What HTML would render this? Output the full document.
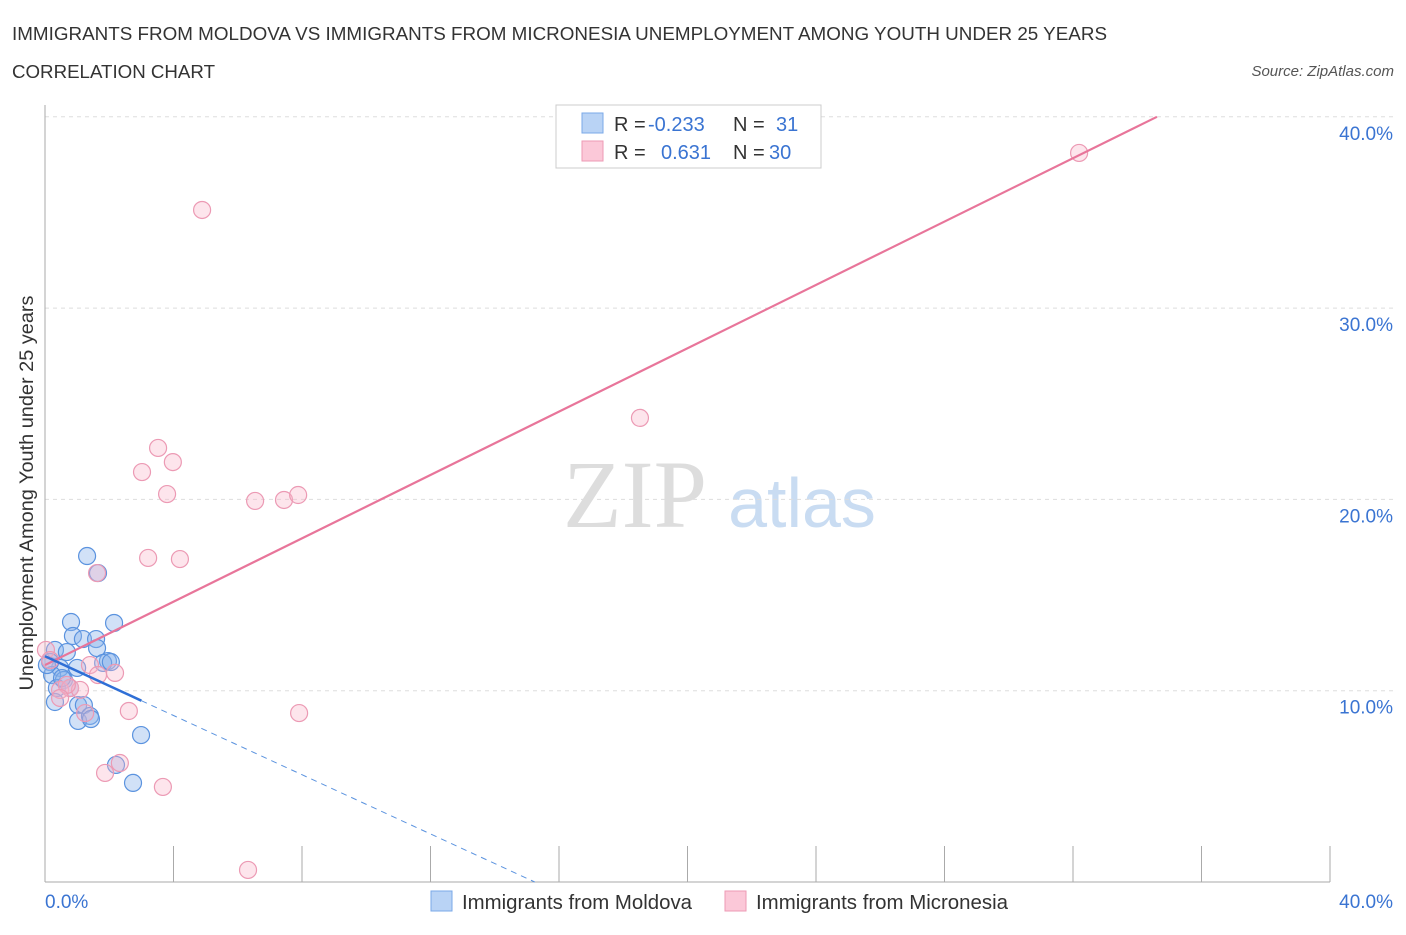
<!DOCTYPE html>
<html><head><meta charset="utf-8"><style>
body{margin:0;background:#fff;font-family:"Liberation Sans",sans-serif;}
svg text{font-family:"Liberation Sans",sans-serif;}
</style></head><body>
<svg id="chart" width="1406" height="930" xmlns="http://www.w3.org/2000/svg">
<text x="12" y="40" font-size="18.5" fill="#333" textLength="1095" lengthAdjust="spacingAndGlyphs">IMMIGRANTS FROM MOLDOVA VS IMMIGRANTS FROM MICRONESIA UNEMPLOYMENT AMONG YOUTH UNDER 25 YEARS</text>
<text x="12" y="78" font-size="18.5" fill="#333" textLength="203" lengthAdjust="spacingAndGlyphs">CORRELATION CHART</text>
<text x="1394" y="76" font-size="15" fill="#555" font-style="italic" text-anchor="end">Source: ZipAtlas.com</text>
<g>
<text x="635" y="527" font-size="96" fill="#ddd" font-family="Liberation Serif" text-anchor="middle" style="font-family:'Liberation Serif',serif">ZIP</text>
<text x="802" y="527" font-size="70" fill="#c9dcf2" text-anchor="middle">atlas</text>
</g>
<g id="grid"></g>
<g id="axes"></g>
<g id="marks"></g>
<text x="33" y="493" font-size="19" fill="#333" text-anchor="middle" textLength="395" lengthAdjust="spacingAndGlyphs" transform="rotate(-90 33 493)">Unemployment Among Youth under 25 years</text>
<g>
<rect x="556" y="105" width="265" height="63" fill="#fff" stroke="#ccc"/>
<rect x="582" y="113" width="21" height="20" fill="#b9d3f5" stroke="#7aa8e8"/>
<rect x="582" y="141" width="21" height="20" fill="#fbc8d8" stroke="#ee9ab4"/>
<text x="614" y="131" font-size="20" fill="#333">R = <tspan x="648" fill="#3a74d2">-0.233</tspan><tspan x="733">N = </tspan><tspan x="776" fill="#3a74d2">31</tspan></text>
<text x="614" y="159" font-size="20" fill="#333">R = <tspan x="661" fill="#3a74d2">0.631</tspan><tspan x="733">N = </tspan><tspan x="769" fill="#3a74d2">30</tspan></text>
</g>
<g>
<rect x="431" y="891" width="21" height="20" fill="#b9d3f5" stroke="#7aa8e8"/>
<text x="462" y="909" font-size="20" fill="#333" textLength="230" lengthAdjust="spacingAndGlyphs">Immigrants from Moldova</text>
<rect x="725" y="891" width="21" height="20" fill="#fbc8d8" stroke="#ee9ab4"/>
<text x="756" y="909" font-size="20" fill="#333" textLength="252" lengthAdjust="spacingAndGlyphs">Immigrants from Micronesia</text>
</g>
</svg>
<script>
const yTicks=[10,20,30,40];
const yTickLabels=["10.0%","20.0%","30.0%","40.0%"];
const xTickLabels=["0.0%","40.0%"];
const blueX=[1.31,1.65,0.81,2.15,0.87,1.18,1.59,1.62,0.31,0.68,1.96,1.81,2.05,1.00,0.47,0.16,0.22,0.59,0.37,0.78,0.31,1.03,1.21,1.03,1.40,1.43,2.99,2.21,2.74,0.06,0.53];
const blueY=[17.04,16.15,13.59,13.54,12.86,12.70,12.70,12.23,12.13,12.02,11.55,11.45,11.50,11.19,11.19,11.50,10.82,10.56,10.14,10.14,9.41,9.25,9.25,8.42,8.68,8.52,7.68,6.12,5.18,11.34,10.66];
const pinkX=[4.89,32.19,18.52,3.52,3.98,3.02,3.80,6.54,7.44,7.88,3.21,4.20,1.62,0.03,0.16,1.40,2.18,1.65,0.47,0.78,1.09,0.68,2.61,7.91,1.25,1.87,2.33,3.67,6.32,0.47];
const pinkY=[35.13,38.11,24.26,22.69,21.95,21.43,20.28,19.92,19.97,20.23,16.94,16.88,16.15,12.13,11.60,11.34,10.93,10.82,10.04,10.14,10.04,10.30,8.94,8.83,8.83,5.70,6.22,4.97,0.63,9.62];
const blueTrend=[11.8,-0.774];
const pinkTrend=[11.34,0.828];
const NS="http://www.w3.org/2000/svg";
const X=v=>45+v*32.125, Y=v=>882-v*19.13;
function mk(t,a,p){const e=document.createElementNS(NS,t);for(const k in a)e.setAttribute(k,a[k]);document.getElementById(p).appendChild(e);return e;}
yTicks.forEach((t,i)=>{
 const g=mk('line',{x1:45,x2:1395,y1:Y(t),y2:Y(t),stroke:'#ddd','stroke-dasharray':'4 4'},'grid');
 
 
 const l=mk('text',{x:1393,y:Y(t)+23,'font-size':19,fill:'#3a74d2','text-anchor':'end'},'axes');l.textContent=yTickLabels[i];
 
 
});
const ax=mk('line',{x1:45,x2:45,y1:105,y2:882,stroke:'#aaa'},'axes');


const bx=mk('line',{x1:45,x2:1330,y1:882,y2:882,stroke:'#aaa'},'axes');


for(let i=1;i<=10;i++){const t=mk('line',{x1:X(i*4),x2:X(i*4),y1:846,y2:882,stroke:'#aaa'},'axes');
 
 }
[[0,'start',45],[40,'end',1393]].forEach((d,i)=>{const l=mk('text',{x:d[2],y:908,'font-size':19,fill:'#3a74d2','text-anchor':d[1]},'axes');l.textContent=xTickLabels[i];
 
 });
blueX.forEach((x,i)=>{const c=mk('circle',{cx:X(x),cy:Y(blueY[i]),r:8.5,fill:'rgba(140,180,235,0.4)',stroke:'#5b93df','stroke-width':1.2},'marks');
 
 });
pinkX.forEach((x,i)=>{const c=mk('circle',{cx:X(x),cy:Y(pinkY[i]),r:8.5,fill:'rgba(248,180,200,0.35)',stroke:'#ec9ab4','stroke-width':1.2},'marks');
 
 });
const pxEnd=(40-pinkTrend[0])/pinkTrend[1];
const pl=mk('line',{x1:X(0),y1:Y(pinkTrend[0]),x2:X(pxEnd),y2:Y(40),stroke:'#e8759a','stroke-width':2.2},'marks');


const bl=mk('line',{x1:X(0),y1:Y(blueTrend[0]),x2:X(3),y2:Y(blueTrend[0]+3*blueTrend[1]),stroke:'#2f6fd6','stroke-width':2.5},'marks');


const bz=-blueTrend[0]/blueTrend[1];
const bd=mk('line',{x1:X(3),y1:Y(blueTrend[0]+3*blueTrend[1]),x2:X(bz),y2:Y(0),stroke:'#5b93df','stroke-width':1,'stroke-dasharray':'6 5'},'marks');


</script>
</body></html>
